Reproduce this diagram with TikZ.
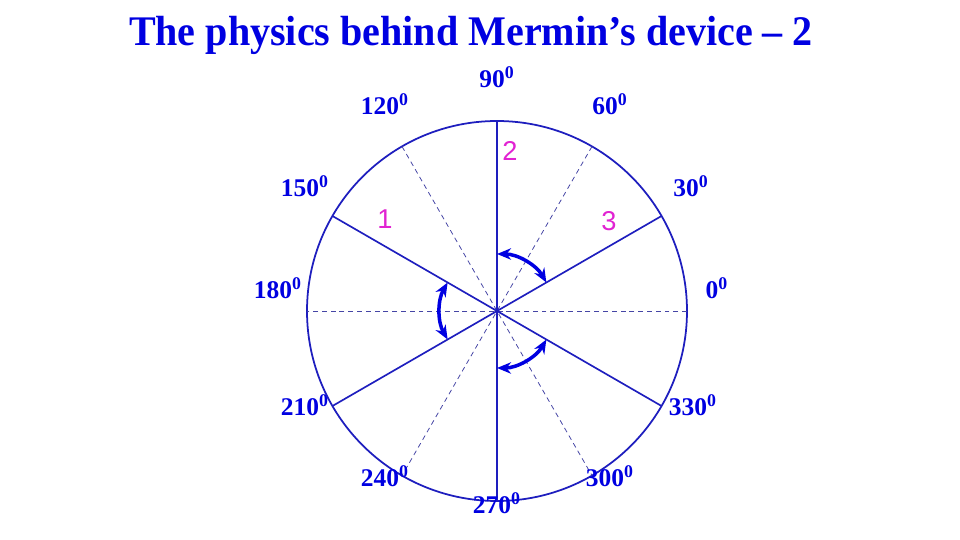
\documentclass[tikz,border=0pt]{standalone}
\usepackage{fontspec}
\setmainfont{Liberation Serif}
\newfontfamily\digitfont{Liberation Sans}
\usetikzlibrary{arrows.meta}

\definecolor{ringblue}{RGB}{30,30,190}
\definecolor{titleblue}{RGB}{0,0,225}
\definecolor{axispink}{RGB}{225,35,210}

\tikzset{
  deg/.style={text=titleblue,font=\fontsize{14.5}{14.5}\selectfont\bfseries,inner sep=0pt},
  axisno/.style={text=axispink,font=\digitfont\fontsize{15.5}{15.5}\selectfont,inner sep=0pt},
  solidaxis/.style={ringblue,line width=0.95pt},
  dashaxis/.style={ringblue!60!gray,line width=0.45pt,dash pattern=on 2.8pt off 2.2pt},
  swing/.style={titleblue,line width=2pt,{Stealth[length=8pt,width=6.5pt]}-{Stealth[length=8pt,width=6.5pt]}}
}

\begin{document}
\begin{tikzpicture}[x=0.02cm,y=0.02cm]
    \useasboundingbox (-497,-229) rectangle (463,311);
    \coordinate (O) at (0,0);

    \node[text=titleblue,font=\fontsize{24}{24}\selectfont\bfseries,xscale=0.95,transform shape] (title) at (-26,276) {The physics behind Mermin’s device -- 2};

    % the circle and the three dashed directions
    \draw[ringblue,line width=1pt] (O) circle (190);
    \draw[dashaxis] (0:190)--(180:190);
    \draw[dashaxis] (60:190)--(240:190);
    \draw[dashaxis] (120:190)--(300:190);

    % the three solid directions
    \draw[solidaxis] (90:190)--(270:190);
    \draw[solidaxis] (30:190)--(210:190);
    \draw[solidaxis] (150:190)--(330:190);

    % angles between them
    \draw[swing] (90:57) arc (90:30:57);
    \draw[swing] (150:57) arc (150:210:57);
    \draw[swing] (270:57) arc (270:330:57);

    \node[axisno] (n2) at (13,160) {2};
    \node[axisno] (n1) at (-112,92) {1};
    \node[axisno] (n3) at (112,90) {3};

    \node[deg] (d90) at (0,234) {90\textsuperscript{0}};
    \node[deg] (d120) at (-112,207) {120\textsuperscript{0}};
    \node[deg] (d60) at (113,207) {60\textsuperscript{0}};
    \node[deg] (d150) at (-192,125) {150\textsuperscript{0}};
    \node[deg] (d30) at (194,125) {30\textsuperscript{0}};
    \node[deg] (d180) at (-219,23) {180\textsuperscript{0}};
    \node[deg] (d0) at (220,23) {0\textsuperscript{0}};
    \node[deg] (d210) at (-192,-94) {210\textsuperscript{0}};
    \node[deg] (d330) at (196,-94) {330\textsuperscript{0}};
    \node[deg] (d240) at (-112,-165) {240\textsuperscript{0}};
    \node[deg] (d300) at (113,-165) {300\textsuperscript{0}};
    \node[deg] (d270) at (0,-192) {270\textsuperscript{0}};
\end{tikzpicture}
\end{document}
